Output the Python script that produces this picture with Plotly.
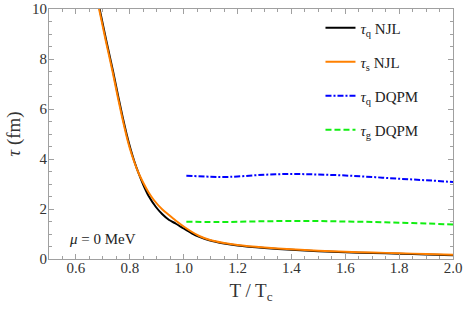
import plotly.graph_objects as go

# ---- data ----
x_tau_s = [0.676, 0.686, 0.711, 0.736, 0.756, 0.772, 0.786, 0.80, 0.816, 0.832, 0.85, 0.87, 0.89, 0.92, 0.95,
           0.975, 1.0, 1.025, 1.058, 1.095, 1.15, 1.2, 1.3, 1.4, 1.5, 1.6, 1.7, 1.8, 1.9, 2.0]
y_tau_s = [10.5, 10.0, 8.72, 7.5, 6.45, 5.65, 5.0, 4.43, 3.9, 3.45, 3.05, 2.66, 2.35, 1.99, 1.72,
           1.5, 1.3, 1.12, 0.92, 0.77, 0.64, 0.56, 0.46, 0.39, 0.33, 0.29, 0.26, 0.23, 0.2, 0.17]

x_tau_q = [0.678, 0.688, 0.713, 0.738, 0.758, 0.774, 0.788, 0.802, 0.817, 0.833, 0.85, 0.87, 0.897, 0.92,
           0.946, 0.97, 1.0, 1.03, 1.058, 1.095, 1.15, 1.2, 1.3, 1.4, 1.5, 1.6, 1.7, 1.8, 1.9, 2.0]
y_tau_q = [10.5, 10.0, 8.72, 7.5, 6.45, 5.65, 5.0, 4.43, 3.9, 3.42, 2.97, 2.52, 2.08, 1.8,
           1.56, 1.42, 1.22, 1.03, 0.89, 0.75, 0.62, 0.54, 0.44, 0.37, 0.31, 0.27, 0.24, 0.21, 0.18, 0.15]

x_dqpm = [1.01, 1.1, 1.15, 1.2, 1.3, 1.4, 1.5, 1.6, 1.7, 1.8, 1.9, 2.0]
y_tau_q_dqpm = [3.33, 3.29, 3.28, 3.30, 3.37, 3.40, 3.38, 3.34, 3.28, 3.21, 3.15, 3.08]
y_tau_g_dqpm = [1.49, 1.48, 1.48, 1.49, 1.51, 1.52, 1.52, 1.50, 1.48, 1.45, 1.42, 1.38]

x_ticks = [0.6, 0.8, 1.0, 1.2, 1.4, 1.6, 1.8, 2.0]
y_ticks = [0, 2, 4, 6, 8, 10]

FONT = "Liberation Serif"
TXT = "#222222"
AX = "#A0A0A0"

fig = go.Figure()
fig.add_trace(go.Scatter(x=x_tau_q, y=y_tau_q, mode="lines", name="<i>τ</i><sub>q</sub> NJL",
                         line=dict(color="black", width=2, shape="spline", smoothing=0.6), legendgroup="a"))
fig.add_trace(go.Scatter(x=x_tau_s, y=y_tau_s, mode="lines", name="<i>τ</i><sub>s</sub> NJL",
                         line=dict(color="#FF8000", width=2, shape="spline", smoothing=0.6), legendgroup="b"))
fig.add_trace(go.Scatter(x=x_dqpm, y=y_tau_q_dqpm, mode="lines", name="<i>τ</i><sub>q</sub> DQPM",
                         line=dict(color="#0000FF", width=2, dash="6px,2px,2px,2px", shape="spline"),
                         legendgroup="c"))
fig.add_trace(go.Scatter(x=x_dqpm, y=y_tau_g_dqpm, mode="lines", name="<i>τ</i><sub>g</sub> DQPM",
                         line=dict(color="#11EE11", width=2, dash="6px,3px", shape="spline"),
                         legendgroup="d"))

axis_common = dict(showline=True, linecolor=AX, linewidth=1, mirror="ticks", automargin=False,
                   ticks="inside", ticklen=5, tickcolor=AX, showgrid=False, zeroline=False,
                   tickfont=dict(family=FONT, size=15, color="#333333"))

fig.update_xaxes(range=[0.5, 2.0], tickvals=x_ticks, tickformat=".1f",
                 minor=dict(dtick=0.05, tick0=0.5, ticks="inside", ticklen=3, tickcolor=AX),
                 ticklabelstandoff=-5,
                 title=dict(text="T / T<sub>c</sub>", font=dict(family=FONT, size=19, color="#333333"),
                            standoff=8),
                 **axis_common)
fig.update_yaxes(range=[0, 10], tickvals=y_ticks,
                 minor=dict(dtick=0.5, tick0=0, ticks="inside", ticklen=3, tickcolor=AX),
                 ticklabelstandoff=-2,
                 title=dict(text="<i>τ</i> (fm)", font=dict(family=FONT, size=19, color="#333333"),
                            standoff=6),
                 **axis_common)

fig.add_annotation(x=0.697, y=0.8, xref="x", yref="y", text="<i>μ</i> = 0 MeV", showarrow=False,
                   font=dict(family=FONT, size=15, color=TXT))

fig.update_layout(
    width=463, height=310,
    margin=dict(l=49, r=10, t=9, b=51, autoexpand=False),
    plot_bgcolor="white", paper_bgcolor="white",
    font=dict(family=FONT, size=15, color=TXT),
    legend=dict(x=0.672, y=0.99, xanchor="left", yanchor="top", bgcolor="rgba(0,0,0,0)",
                tracegroupgap=11.5, font=dict(family=FONT, size=15, color=TXT),
                itemwidth=30),
    showlegend=True,
)

fig.write_html("out.html", config={"displayModeBar": False},
               post_script="document.body.style.margin='0px';")
